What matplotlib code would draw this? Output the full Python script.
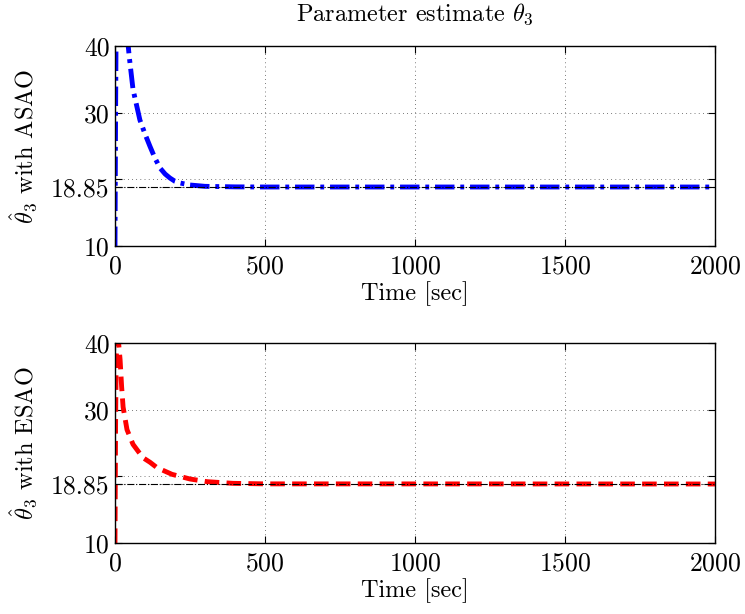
import numpy as np
import matplotlib
matplotlib.use("Agg")
import matplotlib.pyplot as plt

plt.rcParams['font.family'] = 'serif'
plt.rcParams['font.serif'] = ['cmr10']
plt.rcParams['mathtext.fontset'] = 'cm'
plt.rcParams['axes.formatter.use_mathtext'] = True

# values
theta_true = 18.85

t_asao = [0, 2, 5, 10, 20, 30, 40, 47, 60, 83, 100, 117, 133, 150, 167, 183, 200, 217,
          250, 300, 400, 500, 2000]
v_asao = [10, 30, 52, 60, 58, 50, 42, 38.6, 33.5, 28.9, 26.8, 24.9, 23.2, 21.7, 20.8,
          20.2, 19.7, 19.45, 19.15, 18.95, 18.87, 18.85, 18.85]

t_esao = [0, 2, 4, 8, 12, 17, 22, 27, 40, 60, 93, 117, 140, 190, 250, 307, 393, 500, 2000]
v_esao = [10, 28, 38, 40.5, 40, 37.5, 33.5, 30.4, 27, 24.8, 22.8, 22.1, 21.3, 20.3, 19.6,
          19.2, 18.95, 18.87, 18.85]

yticks = [10, 18.85, 20, 30, 40]
ylabels = ['10', '18.85', '', '30', '40']
xticks = [0, 500, 1000, 1500, 2000]

fig = plt.figure(figsize=(7.45, 6.14), dpi=100)
ax1 = fig.add_axes([115/745, 1-246/614, 600/745, 200/614])
ax2 = fig.add_axes([115/745, 1-543/614, 600/745, 200/614])

def style(ax, label):
    ax.set_xlim(0, 2000)
    ax.set_ylim(10, 40)
    ax.set_xticks(xticks)
    ax.set_yticks(yticks)
    ax.set_yticklabels(ylabels)
    ax.grid(True, linestyle=(0, (1, 5)), color='k', linewidth=0.5)
    ax.tick_params(direction='in', top=True, right=True, labelsize=18.5, length=5)
    ax.tick_params(axis='x', pad=6)
    ax.tick_params(axis='y', pad=4)
    ax.set_xlabel('Time [sec]', fontsize=17.5, labelpad=2)
    ax.set_ylabel(label, fontsize=17.5, labelpad=8)
    for s in ax.spines.values():
        s.set_linewidth(1.0)

ax1.plot(t_asao, v_asao, color='blue', linewidth=3.5, linestyle=(0, (4, 1.2, 0.8, 1.2)))
ax1.axhline(theta_true, color='k', linewidth=0.8, linestyle='-.')
style(ax1, r'$\hat{\theta}_3$ with ASAO')
ax1.set_title(r'Parameter estimate $\theta_3$', fontsize=17.5, pad=18)

ax2.plot(t_esao, v_esao, color='red', linewidth=3.5, linestyle=(0, (3, 1.5)))
ax2.axhline(theta_true, color='k', linewidth=0.8, linestyle='-.')
style(ax2, r'$\hat{\theta}_3$ with ESAO')

fig.savefig('out.png', dpi=100)
